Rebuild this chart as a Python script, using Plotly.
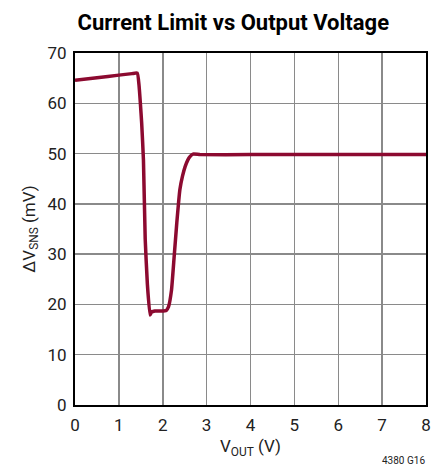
import plotly.graph_objects as go

vout = [0.0, 0.5, 1.0, 1.30, 1.42, 1.46, 1.49, 1.52, 1.56, 1.60, 1.65, 1.71, 1.75, 1.78, 1.82, 1.95, 2.08, 2.13, 2.20, 2.26, 2.32, 2.39, 2.45, 2.51, 2.57, 2.62, 2.69, 2.85, 4.0, 6.0, 8.0]
dvsns = [64.6, 65.1, 65.6, 65.9, 66.0, 63.5, 60.0, 56.0, 48.7, 33.0, 24.0, 17.9, 18.6, 18.6, 18.7, 18.7, 18.8, 19.5, 22.9, 29.5, 36.2, 42.8, 45.5, 47.4, 48.7, 49.4, 49.9, 49.8, 49.8, 49.8, 49.8]

x_ticks = [0, 1, 2, 3, 4, 5, 6, 7, 8]
y_ticks = [0, 10, 20, 30, 40, 50, 60, 70]

FONT = "Roboto, Liberation Sans, sans-serif"

fig = go.Figure()
fig.add_trace(go.Scatter(x=vout, y=dvsns, mode="lines",
                         line=dict(color="#8c0a30", width=3.5, shape="spline", smoothing=0.4),
                         hoverinfo="skip", showlegend=False))

fig.add_shape(type="line", xref="x", yref="y", x0=0, x1=8, y0=40, y1=40,
              line=dict(color="#222222", width=1.5), layer="below")

fig.update_layout(
    width=432, height=472,
    margin=dict(l=75, r=6, t=53, b=67, autoexpand=False),
    paper_bgcolor="white", plot_bgcolor="white",
    title=dict(text="<b>Current Limit vs Output Voltage</b>", x=0.54, xanchor="center",
               y=0.953, yanchor="middle",
               font=dict(family=FONT, size=22, color="black")),
    font=dict(family=FONT, color="#222222", size=17),
    xaxis=dict(range=[0, 8], tickvals=x_ticks, ticks="", showgrid=True,
               gridcolor="#8a8a8a", gridwidth=1.5, showline=True, linecolor="black",
               linewidth=2, mirror=True, zeroline=False, tickfont=dict(size=17),
               automargin=False, ticklabeloverflow="allow", ticklabelstandoff=4,
               title=dict(text="V<sub>OUT</sub> (V)", font=dict(size=17), standoff=6)),
    yaxis=dict(range=[0, 70], tickvals=y_ticks, ticks="", showgrid=True,
               gridcolor="#8a8a8a", gridwidth=1.5, showline=True, linecolor="black",
               linewidth=2, mirror=True, zeroline=False, tickfont=dict(size=17),
               automargin=False, ticklabeloverflow="allow", ticklabelstandoff=3,
               title=dict(text="ΔV<sub>SNS</sub> (mV)", font=dict(size=17), standoff=8)),
    annotations=[dict(text="4380 G16", xref="paper", yref="paper", x=1.003, y=-0.136,
                      xanchor="right", yanchor="top", showarrow=False,
                      font=dict(family=FONT, size=10, color="#222222"))],
)

fig.write_html("out.html", config={"displayModeBar": False, "staticPlot": True},
               post_script="document.body.style.margin='0';document.body.style.overflow='hidden';")
